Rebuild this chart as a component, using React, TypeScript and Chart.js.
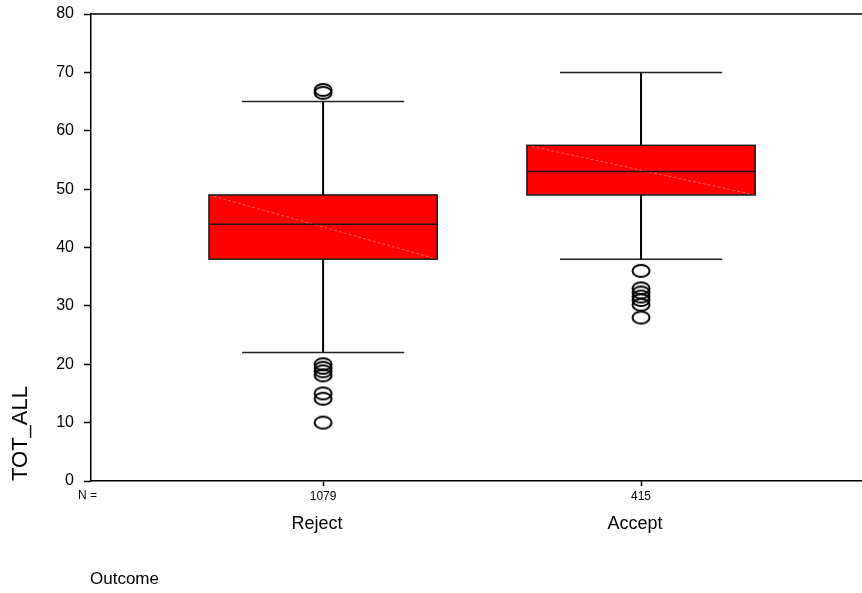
import React, { useEffect, useRef } from "react";
import { Chart, registerables } from "chart.js";

Chart.register(...registerables);

const categories = ["Reject", "Accept"];
const nCounts = ["1079", "415"];
const whiskerLow = [22, 38];
const q1 = [38, 49];
const median = [44, 53];
const q3 = [49, 57.5];
const whiskerHigh = [65, 70];
const rejectOutliers = [67, 66.5, 20, 19.4, 18.8, 18.1, 15, 14.1, 10];
const acceptOutliers = [36, 33, 32.3, 31.6, 31, 30.2, 28];
const yTicks = [0, 10, 20, 30, 40, 50, 60, 70, 80];

const FONT = "'Liberation Sans', Arial, sans-serif";

function makeRing(): HTMLCanvasElement {
  const c = document.createElement("canvas");
  c.width = 22;
  c.height = 16;
  const g = c.getContext("2d")!;
  g.strokeStyle = "#000";
  g.lineWidth = 2;
  g.beginPath();
  g.ellipse(11, 8, 8.5, 6, 0, 0, Math.PI * 2);
  g.stroke();
  return c;
}

const boxPlugin = {
  id: "boxPlugin",
  beforeDatasetsDraw(chart: any) {
    const { ctx, scales, chartArea } = chart;
    const xs = scales.x;
    const ys = scales.y;
    ctx.save();
    ctx.strokeStyle = "#000";
    ctx.lineWidth = 1.5;
    ctx.beginPath();
    ctx.moveTo(chartArea.left, chartArea.top);
    ctx.lineTo(chartArea.right, chartArea.top);
    ctx.stroke();
    categories.forEach((_, i) => {
      const cx = xs.getPixelForValue(i);
      const bl = xs.getPixelForValue(i - 0.359);
      const br = xs.getPixelForValue(i + 0.359);
      const cl = xs.getPixelForValue(i - 0.255);
      const cr = xs.getPixelForValue(i + 0.255);
      const yq1 = ys.getPixelForValue(q1[i]);
      const yq3 = ys.getPixelForValue(q3[i]);
      const ymed = ys.getPixelForValue(median[i]);
      const ylo = ys.getPixelForValue(whiskerLow[i]);
      const yhi = ys.getPixelForValue(whiskerHigh[i]);
      ctx.strokeStyle = "#000";
      ctx.lineWidth = 2;
      ctx.beginPath();
      ctx.moveTo(cx, yq3);
      ctx.lineTo(cx, yhi);
      ctx.moveTo(cx, yq1);
      ctx.lineTo(cx, ylo);
      ctx.stroke();
      ctx.strokeStyle = "#222";
      ctx.lineWidth = 1.5;
      ctx.beginPath();
      ctx.moveTo(cl, yhi);
      ctx.lineTo(cr, yhi);
      ctx.moveTo(cl, ylo);
      ctx.lineTo(cr, ylo);
      ctx.stroke();
      ctx.fillStyle = "#ff0000";
      ctx.fillRect(bl, yq3, br - bl, yq1 - yq3);
      ctx.strokeStyle = "rgba(255,110,110,0.9)";
      ctx.lineWidth = 1;
      ctx.setLineDash([3, 2]);
      ctx.beginPath();
      ctx.moveTo(bl, yq3);
      ctx.lineTo(br, yq1);
      ctx.stroke();
      ctx.setLineDash([]);
      ctx.strokeStyle = "#1a1a1a";
      ctx.lineWidth = 1.5;
      ctx.strokeRect(bl, yq3, br - bl, yq1 - yq3);
      ctx.beginPath();
      ctx.moveTo(bl, ymed);
      ctx.lineTo(br, ymed);
      ctx.stroke();
    });
    ctx.restore();
  },
  afterDraw(chart: any) {
    const { ctx, scales, chartArea } = chart;
    const xs = scales.x;
    ctx.save();
    ctx.fillStyle = "#000";
    ctx.textBaseline = "middle";
    ctx.font = `12px ${FONT}`;
    ctx.textAlign = "left";
    ctx.fillText("N =", 78, 496);
    ctx.font = `18px ${FONT}`;
    ctx.textAlign = "center";
    categories.forEach((c, i) => {
      ctx.fillText(c, xs.getPixelForValue(i) - 6, 524);
    });
    ctx.font = `17px ${FONT}`;
    ctx.textAlign = "left";
    ctx.fillText("Outcome", 90, 579);
    ctx.translate(21, chartArea.bottom);
    ctx.rotate(-Math.PI / 2);
    ctx.font = `22px ${FONT}`;
    ctx.textAlign = "left";
    ctx.fillText("TOT_ALL", 0, 0);
    ctx.restore();
  },
};

function zeroPad(s: any) {
  s.paddingLeft = 0;
  s.paddingRight = 0;
  s.paddingTop = 0;
  s.paddingBottom = 0;
}

export default function App() {
  const ref = useRef<HTMLCanvasElement>(null);
  useEffect(() => {
    const ring = makeRing();
    const data = [
      ...rejectOutliers.map((v) => ({ x: 0, y: v })),
      ...acceptOutliers.map((v) => ({ x: 1, y: v })),
    ];
    const chart = new Chart(ref.current!, {
      type: "scatter",
      data: {
        datasets: [
          {
            data,
            pointStyle: ring as any,
            pointRadius: 8,
            pointHoverRadius: 8,
          },
        ],
      },
      options: {
        responsive: false,
        animation: false,
        events: [],
        layout: { autoPadding: false, padding: { top: 14, left: 0, right: 0, bottom: 0 } },
        plugins: { legend: { display: false }, tooltip: { enabled: false } },
        scales: {
          x: {
            type: "linear",
            min: -0.73,
            max: 1.695,
            afterBuildTicks: (s: any) => {
              s.ticks = [{ value: 0 }, { value: 1 }];
            },
            afterFit: (s: any) => {
              s.height = 112;
              zeroPad(s);
            },
            ticks: {
              autoSkip: false,
              maxRotation: 0,
              color: "#000",
              font: { family: FONT, size: 12 },
              padding: 3,
              callback: (v: any) => nCounts[Math.round(Number(v))] ?? "",
            },
            grid: {
              drawOnChartArea: false,
              drawTicks: true,
              tickLength: 5,
              tickColor: "#000",
              tickWidth: 1.5,
            },
            border: { color: "#000", width: 1.5 },
          },
          y: {
            min: 0,
            max: 80,
            afterBuildTicks: (s: any) => {
              s.ticks = yTicks.map((v) => ({ value: v }));
            },
            afterFit: (s: any) => {
              s.width = 91;
              zeroPad(s);
            },
            ticks: {
              color: "#000",
              font: { family: FONT, size: 16 },
              padding: 10,
            },
            grid: {
              drawOnChartArea: false,
              tickLength: 7,
              tickColor: "#000",
              tickWidth: 1.5,
            },
            border: { color: "#000", width: 1.5 },
          },
        },
      },
      plugins: [boxPlugin],
    });
    return () => chart.destroy();
  }, []);
  return (
    <div style={{ position: "absolute", left: 0, top: 0, width: 862, height: 593, background: "#fff" }}>
      <canvas ref={ref} width={862} height={593} />
    </div>
  );
}
